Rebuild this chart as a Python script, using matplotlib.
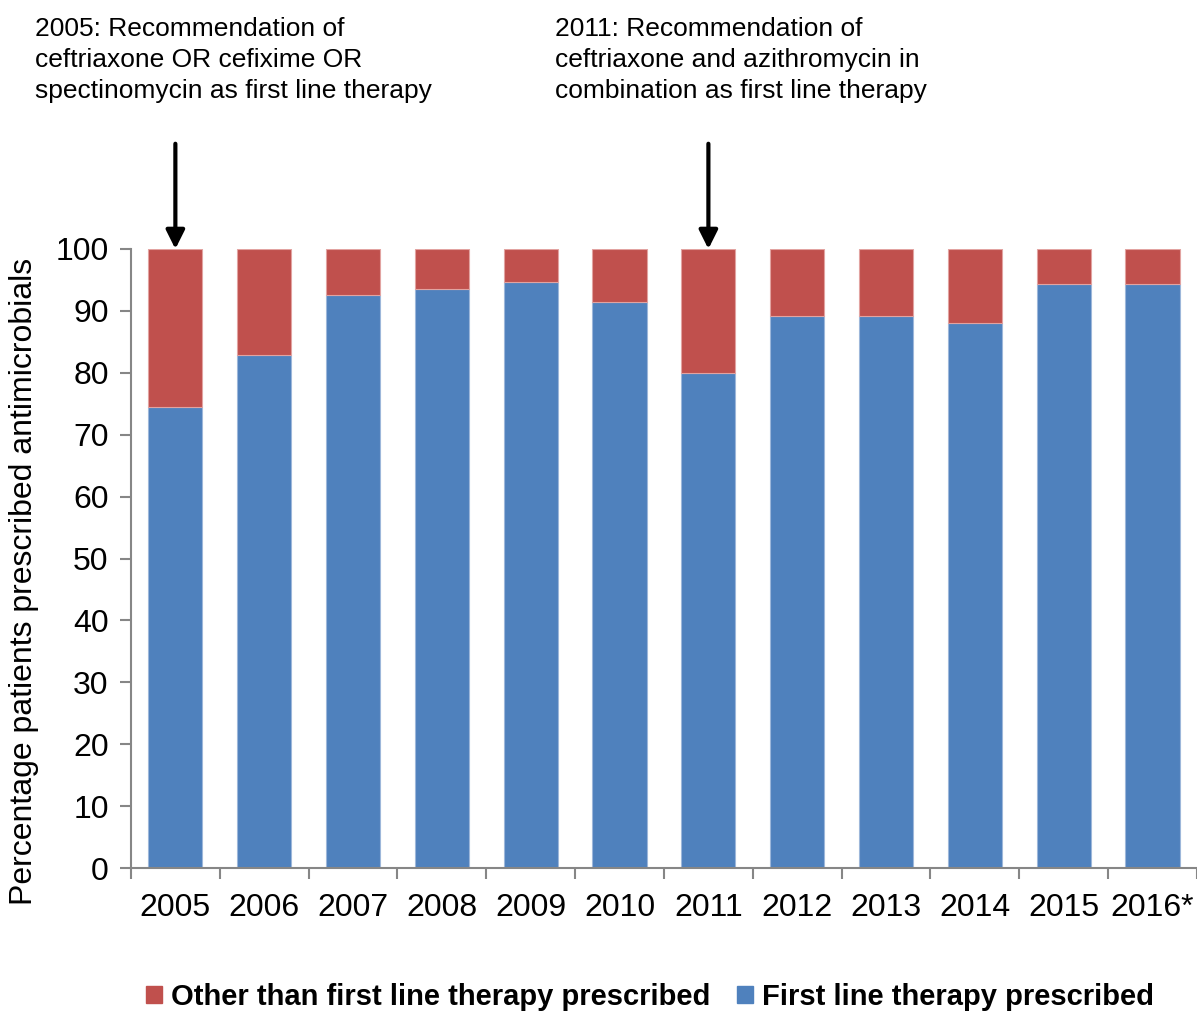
import matplotlib
matplotlib.use('Agg')

import numpy as np
import matplotlib.pyplot as plt
from matplotlib.patches import Patch

plt.rcParams['font.family'] = ['Liberation Sans', 'DejaVu Sans']

years = ['2005', '2006', '2007', '2008', '2009', '2010',
         '2011', '2012', '2013', '2014', '2015', '2016*']
first_line = [74.5, 82.9, 92.5, 93.6, 94.7, 91.4,
              79.9, 89.2, 89.1, 88.1, 94.3, 94.4]
other = [100 - v for v in first_line]

red = '#C0504D'
blue = '#4F81BD'
axis_grey = '#868686'

fig = plt.figure(figsize=(11.97, 10.15), dpi=100)
ax = fig.add_axes([0.1094, 0.1448, 0.8906, 0.6099])

x = np.arange(len(years))
ax.bar(x, first_line, width=0.61, color=blue, edgecolor='#9DB7DA', linewidth=0.8)
ax.bar(x, other, width=0.61, bottom=first_line, color=red, edgecolor='#E2A3A1', linewidth=0.8)

ax.set_xlim(-0.5, len(years) - 0.5)
ax.set_ylim(0, 100)
ax.set_yticks(range(0, 101, 10))
ax.tick_params(axis='y', labelsize=23, length=8, width=1.5, color=axis_grey, pad=8)

ax.set_xticks(x)
ax.set_xticklabels(years)
ax.set_xticks(np.arange(-0.5, len(years)), minor=True)
ax.tick_params(axis='x', which='major', labelsize=23, length=0, pad=18)
ax.tick_params(axis='x', which='minor', length=8, width=1.5, color=axis_grey)

for side in ['top', 'right']:
    ax.spines[side].set_visible(False)
for side in ['left', 'bottom']:
    ax.spines[side].set_color(axis_grey)
    ax.spines[side].set_linewidth(1.5)

ax.set_ylabel('Percentage patients prescribed antimicrobials', fontsize=23)
ax.yaxis.set_label_coords(-0.086, 0.463)

# guideline changes
notes = [
    (0, 35, '2005: Recommendation of\nceftriaxone OR cefixime OR\nspectinomycin as first line therapy'),
    (6, 555, '2011: Recommendation of\nceftriaxone and azithromycin in\ncombination as first line therapy'),
]
for idx, px, txt in notes:
    fig.text(px / 1197, 1 - 17 / 1015, txt, fontsize=19, va='top', ha='left',
             linespacing=1.37)
    ax.annotate('', xy=(idx, 100), xytext=(idx, 117), xycoords='data',
                annotation_clip=False,
                arrowprops=dict(arrowstyle='-|>', color='black', lw=3,
                                mutation_scale=28, shrinkA=0, shrinkB=0))

handles = [Patch(color=red, label='Other than first line therapy prescribed'),
           Patch(color=blue, label='First line therapy prescribed')]
fig.legend(handles=handles, loc='center', bbox_to_anchor=(0.543, 1 - 997 / 1015),
           ncol=2, frameon=False, prop={'size': 21, 'weight': 'bold'},
           handlelength=0.55, handleheight=0.55, handletextpad=0.3, columnspacing=0.9)

fig.savefig('out.png', dpi=100)
